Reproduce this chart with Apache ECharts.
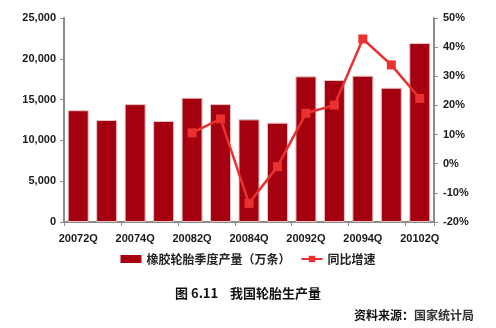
<!DOCTYPE html>
<html>
<head>
<meta charset="utf-8">
<script src="https://cdn.jsdelivr.net/npm/echarts@6/dist/echarts.min.js"></script>
<style>
  html, body { margin: 0; padding: 0; background: #fff; }
  #chart { width: 496px; height: 328px; }
</style>
</head>
<body>
<div id="chart"></div>
<script>
// Quarterly tyre output (10k units) and year-on-year growth (%)
const quarters = ['20072Q','20073Q','20074Q','20081Q','20082Q','20083Q','20084Q',
                  '20091Q','20092Q','20093Q','20094Q','20101Q','20102Q'];
const output = [13700, 12500, 14450, 12380, 15230, 14450, 12580,
                12170, 17850, 17400, 17930, 16450, 21930];
const growth = [null, null, null, null, 10.6, 15.4, -13.6,
                -1.0, 17.3, 20.1, 42.8, 33.9, 22.4];
const leftTicks = { min: 0, max: 25000, interval: 5000 };
const rightTicks = { min: -20, max: 50, interval: 10 };

const chart = echarts.init(document.getElementById('chart'));
const axisFont = { fontFamily: 'Liberation Sans, Arial, sans-serif', fontWeight: 'bold', fontSize: 11, color: '#1a1a1a' };
const axisLine = { show: true, lineStyle: { color: '#8c8c8c', width: 2 } };

chart.setOption({
  animation: false,
  title: [
    {
      text: '图 6.11    我国轮胎生产量',
      left: 'center', top: 282,
      textStyle: { fontFamily: 'Noto Sans CJK SC', fontSize: 13, fontWeight: 'bold', color: '#111' }
    },
    {
      text: '{b|资料来源：}{n|国家统计局}',
      right: 17, top: 304,
      textStyle: {
        rich: {
          b: { fontFamily: 'Noto Sans CJK SC', fontSize: 12, fontWeight: 'bold', color: '#111' },
          n: { fontFamily: 'Noto Sans CJK SC', fontSize: 12, color: '#333' }
        }
      }
    }
  ],
  legend: {
    top: 248, left: 'center',
    itemGap: 10,
    textStyle: { fontFamily: 'Noto Sans CJK SC', fontSize: 12, fontWeight: 'bold', color: '#222' },
    data: [
      { name: '橡胶轮胎季度产量（万条）', icon: 'rect', itemStyle: { borderWidth: 0 } },
      { name: '同比增速' }
    ],
    itemWidth: 21, itemHeight: 8
  },
  grid: { left: 64, right: 62, top: 18, bottom: 106 },
  xAxis: {
    type: 'category',
    data: quarters,
    boundaryGap: true,
    axisLine: axisLine,
    axisTick: { show: true, length: 4, lineStyle: { color: '#8c8c8c' } },
    axisLabel: Object.assign({ interval: 1, margin: 11 }, axisFont)
  },
  yAxis: [
    {
      type: 'value',
      min: leftTicks.min, max: leftTicks.max, interval: leftTicks.interval,
      axisLine: axisLine,
      axisTick: { show: true, length: 4, lineStyle: { color: '#8c8c8c' } },
      splitLine: { show: false },
      axisLabel: Object.assign({
        margin: 8,
        formatter: v => v.toLocaleString('en-US')
      }, axisFont)
    },
    {
      type: 'value',
      position: 'right',
      min: rightTicks.min, max: rightTicks.max, interval: rightTicks.interval,
      axisLine: axisLine,
      axisTick: { show: true, length: 4, inside: false, lineStyle: { color: '#8c8c8c' } },
      splitLine: { show: false },
      axisLabel: Object.assign({ margin: 9, formatter: v => v + '%' }, axisFont)
    }
  ],
  series: [
    {
      name: '橡胶轮胎季度产量（万条）',
      type: 'bar',
      data: output,
      barWidth: 21,
      itemStyle: { color: '#a50010', borderColor: '#e6c4c4', borderWidth: 1 }
    },
    {
      name: '同比增速',
      type: 'line',
      yAxisIndex: 1,
      data: growth,
      symbol: 'rect',
      symbolSize: 9,
      connectNulls: false,
      lineStyle: { color: '#ea3030', width: 2.5 },
      itemStyle: { color: '#ea3030' }
    }
  ]
});
</script>
</body>
</html>
